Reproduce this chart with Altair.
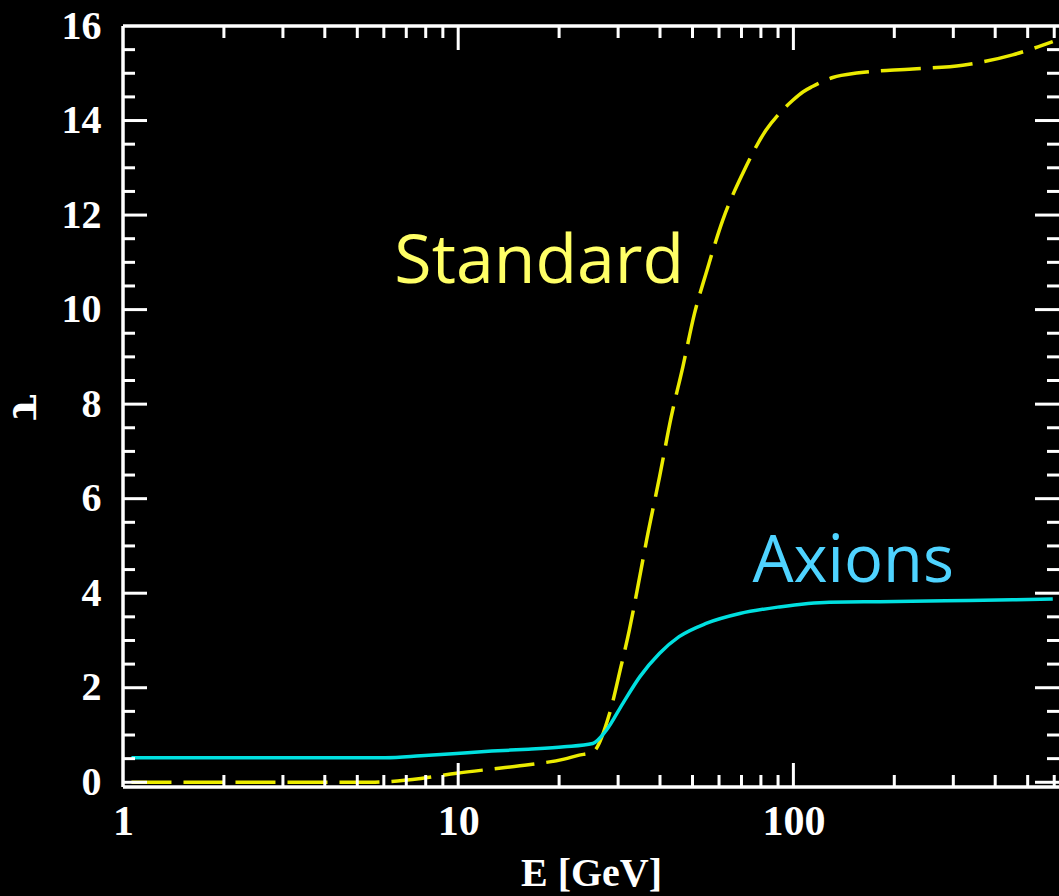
import altair as alt
import pandas as pd

# ---- data ----
std_E = [1.06, 5.5, 6.06, 7.74, 9.89, 12.6, 16.2, 20.7, 22.8, 25.2, 28.3, 30.6, 32.4, 34.8,
         36.5, 39.9, 43.2, 46.8, 50.7, 54.9, 61.6, 70.6, 82.9, 90.8, 99.6, 107, 114, 131,
         157, 227, 320, 451, 594]
std_tau = [0.0, 0.0, 0.01, 0.08, 0.19, 0.28, 0.37, 0.49, 0.57, 0.64, 1.46, 2.45, 3.22, 4.35,
           5.13, 6.47, 7.73, 8.79, 9.92, 10.77, 11.9, 12.88, 13.8, 14.15, 14.43, 14.61, 14.72, 14.91,
           15.01, 15.09, 15.17, 15.39, 15.67]

ax_E = [1.06, 6.06, 7.74, 9.89, 12.6, 16.2, 20.7, 25.2, 27.6, 31.0, 34.8, 39.9, 45.6, 54.9,
        69.2, 90.8, 128, 181, 285, 451, 594]
ax_tau = [0.52, 0.52, 0.56, 0.61, 0.66, 0.70, 0.75, 0.82, 1.09, 1.67, 2.23, 2.73, 3.08, 3.36,
          3.57, 3.71, 3.81, 3.82, 3.84, 3.86, 3.88]

label_text = ["Standard", "Axions"]
label_E = [6.45, 75.5]
label_tau = [10.56, 4.24]
label_color = ["#FFFF66", "#4FD3FF"]
label_size = [68, 65]

x_labels = [1, 10, 100]
y_labels = [0, 2, 4, 6, 8, 10, 12, 14, 16]
x_major_ticks = [10, 100]
x_minor_ticks = [2, 3, 4, 5, 6, 7, 8, 9, 20, 30, 40, 50, 60, 70, 80, 90, 200, 300, 400, 500, 600]
y_major_ticks = [0, 2, 4, 6, 8, 10, 12, 14]
y_minor_ticks = [v / 2 for v in range(1, 32) if v % 4 != 0]

W, H = 936, 761
FONT = "Liberation Serif"

xscale = alt.Scale(type="log", domain=[1, 620])
yscale = alt.Scale(domain=[-0.1, 16])

X = alt.X("E:Q", scale=xscale,
          axis=alt.Axis(values=x_labels, format="d", title="E [GeV]", grid=False, domain=False,
                        ticks=False, labelFlush=False, labelOverlap=False,
                        labelFont=FONT, labelFontSize=42, labelFontWeight="bold", labelColor="white",
                        labelPadding=14, titleFont=FONT, titleFontSize=40, titleFontWeight="bold",
                        titleColor="white", titleY=98, titleBaseline="alphabetic"))
Y = alt.Y("tau:Q", scale=yscale,
          axis=alt.Axis(values=y_labels, format="d", title="τ", grid=False, domain=False,
                        ticks=False, labelOverlap=False, labelFlush=False,
                        labelFont=FONT, labelFontSize=40, labelFontWeight="bold", labelColor="white",
                        labelPadding=22, titleFont="DejaVu Serif", titleFontSize=42,
                        titleFontWeight="bold",
                        titleColor="white", titleAngle=90, titleX=-110, titleY=381,
                        titleAlign="center", titleBaseline="alphabetic"))

std_df = pd.DataFrame({"E": std_E, "tau": std_tau})
ax_df = pd.DataFrame({"E": ax_E, "tau": ax_tau})
lab_df = pd.DataFrame({"E": label_E, "tau": label_tau, "text": label_text,
                       "color": label_color, "size": label_size})

std_line = alt.Chart(std_df).mark_line(color="#EBEB00", strokeWidth=3.5, strokeDash=[40, 12],
                                       interpolate="monotone").encode(x=X, y=Y)
ax_line = alt.Chart(ax_df).mark_line(color="#00E0E0", strokeWidth=3.5,
                                     interpolate="monotone").encode(x=X, y=Y)
labels = alt.Chart(lab_df).mark_text(font="Open Sans", align="left",
                                     baseline="alphabetic").encode(
    x=X, y=Y, text="text:N", color=alt.Color("color:N", scale=None),
    size=alt.Size("size:Q", scale=None))

def xticks(vals, L):
    df = pd.DataFrame({"E": vals})
    b = alt.Chart(df).mark_rule(color="white", strokeWidth=3).encode(
        x=X, y=alt.value(H), y2=alt.value(H - L))
    t = alt.Chart(df).mark_rule(color="white", strokeWidth=3).encode(
        x=X, y=alt.value(0), y2=alt.value(L))
    return [b, t]

def yticks(vals, L):
    df = pd.DataFrame({"tau": vals})
    l = alt.Chart(df).mark_rule(color="white", strokeWidth=3).encode(
        y=Y, x=alt.value(0), x2=alt.value(L))
    r = alt.Chart(df).mark_rule(color="white", strokeWidth=3).encode(
        y=Y, x=alt.value(W), x2=alt.value(W - L))
    return [l, r]

one = pd.DataFrame({"k": [0]})
frame = [
    alt.Chart(one).mark_rule(color="white", strokeWidth=3.5).encode(
        x=alt.value(0), y=alt.value(0), y2=alt.value(H)),
    alt.Chart(one).mark_rule(color="white", strokeWidth=3.5).encode(
        x=alt.value(0), x2=alt.value(W), y=alt.value(0)),
    alt.Chart(one).mark_rule(color="white", strokeWidth=3.5).encode(
        x=alt.value(0), x2=alt.value(W), y=alt.value(H)),
]

layers = ([std_line, ax_line, labels] + xticks(x_major_ticks, 24) + xticks(x_minor_ticks, 12)
          + yticks(y_major_ticks, 24) + yticks(y_minor_ticks, 12) + frame)

chart = alt.layer(*layers).properties(
    width=W, height=H,
    autosize=alt.AutoSizeParams(type="none"),
    padding={"left": 123, "top": 26, "right": 0, "bottom": 109},
    background="black",
).configure_view(stroke=None)

chart.save("out.html", embed_options={"renderer": "svg", "actions": False})
